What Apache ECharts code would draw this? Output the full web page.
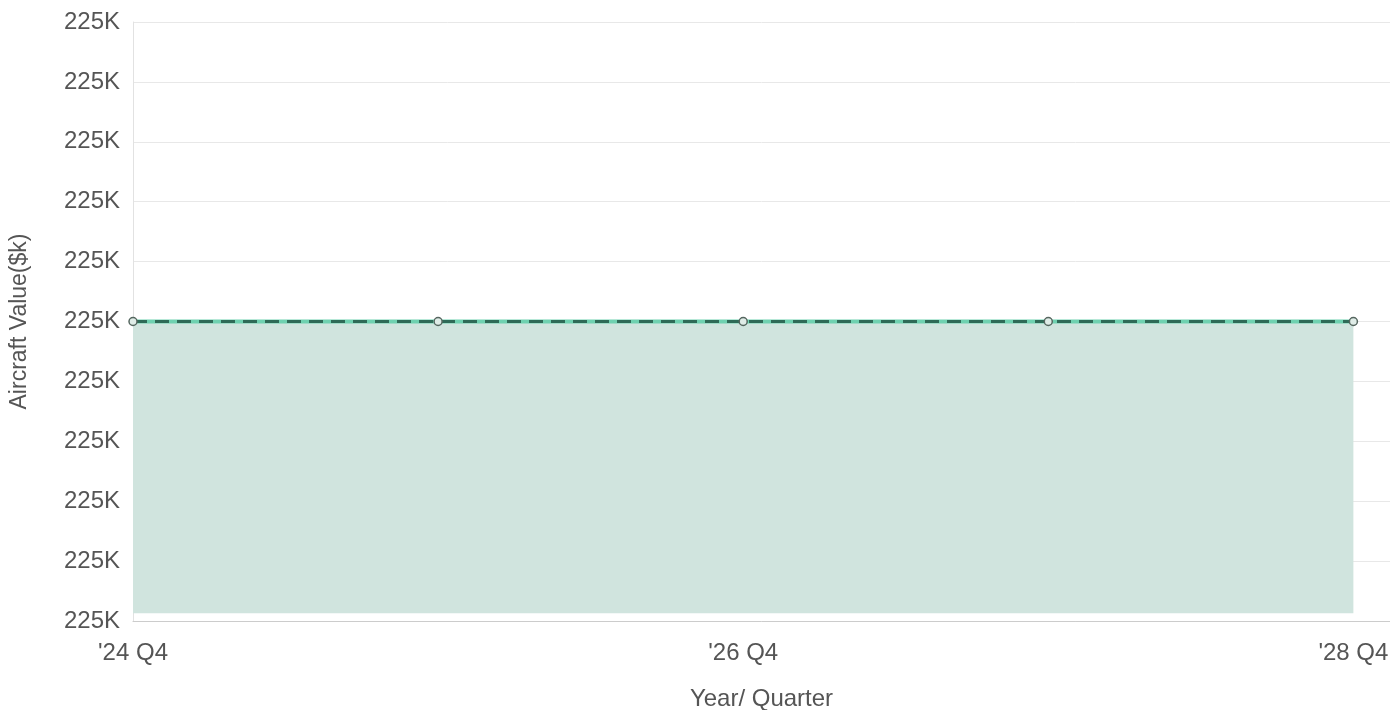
<!DOCTYPE html>
<html>
<head>
<meta charset="utf-8">
<script src="https://cdn.jsdelivr.net/npm/echarts@6/dist/echarts.min.js"></script>
<style>html,body{margin:0;padding:0;background:#fff}#c{width:1390px;height:710px}</style>
</head>
<body>
<div id="c"></div>
<script>
const categories = ["'24 Q4", "'25 Q4", "'26 Q4", "'27 Q4", "'28 Q4"];
const aircraftValues = [225000, 225000, 225000, 225000, 225000];
const forecastValues = [225000, 225000, 225000, 225000, 225000];

const toPairs = arr => arr.map((v, i) => [i, v]);

const chart = echarts.init(document.getElementById('c'));
chart.setOption({
  animation: false,
  grid: { left: 133, right: 0, top: 22, bottom: 89, outerBoundsMode: 'none', containLabel: false },
  xAxis: {
    type: 'value', min: 0, max: 4.12, interval: 2,
    name: 'Year/ Quarter', nameLocation: 'middle', nameGap: 66,
    nameTextStyle: { fontFamily: 'Liberation Sans', fontSize: 24, color: '#555' },
    axisLine: { show: true, lineStyle: { color: '#ccc', width: 1 } },
    axisTick: { show: false },
    splitLine: { show: false },
    axisLabel: {
      fontFamily: 'Liberation Sans', fontSize: 24, color: '#555', margin: 20,
      showMaxLabel: false,
      formatter: v => (Number.isInteger(v) && categories[v] !== undefined) ? categories[v] : ''
    }
  },
  yAxis: {
    type: 'value', min: 224995, max: 225005, interval: 1,
    name: 'Aircraft Value($k)', nameLocation: 'middle', nameGap: 102, nameRotate: 90,
    nameTextStyle: { fontFamily: 'Liberation Sans', fontSize: 23, color: '#555' },
    axisLine: { show: true, lineStyle: { color: '#e2e2e2', width: 1 } },
    axisTick: { show: false },
    splitLine: { show: true, lineStyle: { color: '#e8e8e8', width: 1 } },
    axisLabel: {
      fontFamily: 'Liberation Sans', fontSize: 24, color: '#555', margin: 13,
      formatter: v => Math.round(v / 1000) + 'K'
    }
  },
  series: [
    {
      type: 'line', data: toPairs(aircraftValues), symbol: 'none',
      lineStyle: { color: '#6fd1b0', width: 4 },
      areaStyle: { color: '#d0e4de', opacity: 1, origin: 224995.13 },
      z: 2
    },
    {
      type: 'line', data: toPairs(forecastValues), symbol: 'circle', symbolSize: 8,
      lineStyle: { color: '#2e6a57', width: 3, type: [14, 8] },
      itemStyle: { color: '#dfece7', borderColor: '#55665f', borderWidth: 1.5 },
      z: 3
    }
  ]
});
</script>
</body>
</html>
